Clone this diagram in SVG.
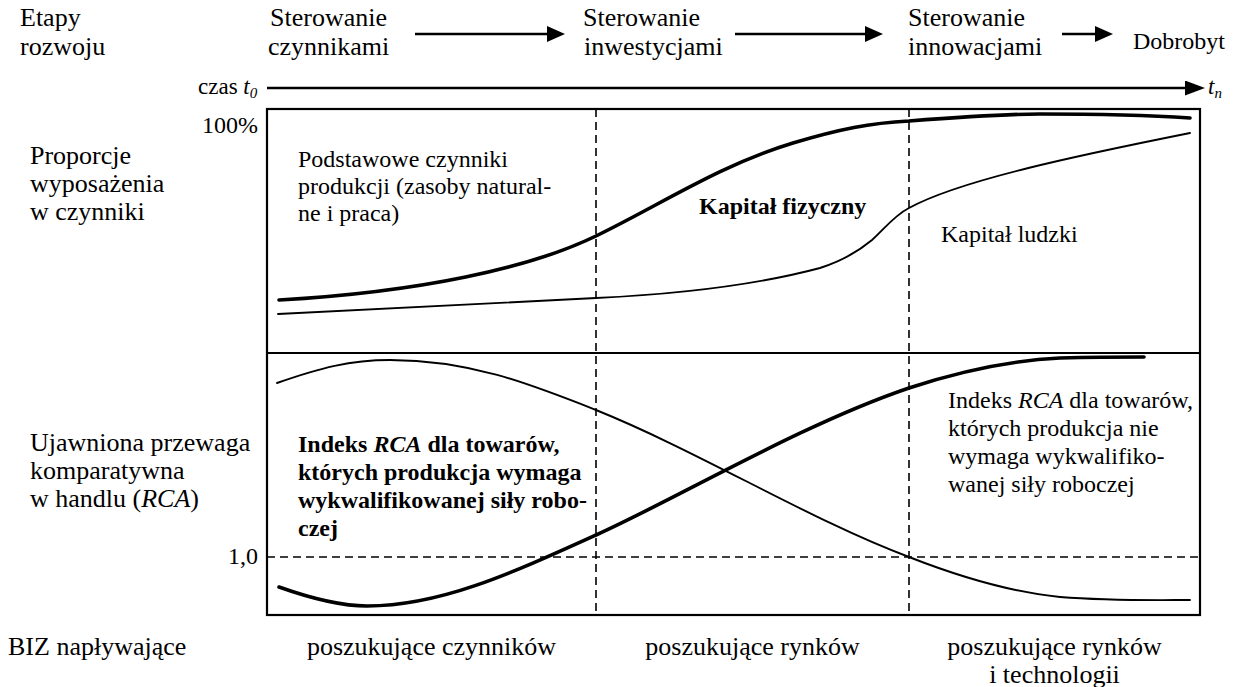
<svg xmlns="http://www.w3.org/2000/svg" width="1243" height="687" viewBox="0 0 1243 687" font-family="'Liberation Serif', 'Times New Roman', Times, serif">
  <defs>
    <marker id="head" viewBox="0 0 18 16" refX="10" refY="8" markerWidth="18" markerHeight="16" markerUnits="userSpaceOnUse" orient="auto">
      <path d="M0,0 L18,8 L0,16 z" fill="#000"/>
    </marker>
    <marker id="axisHead" viewBox="0 0 20 15" refX="12" refY="7.5" markerWidth="20" markerHeight="15" markerUnits="userSpaceOnUse" orient="auto">
      <path d="M0,0 L20,7.5 L0,15 z" fill="#000"/>
    </marker>
    <style>
      text { font-family: 'Liberation Serif', 'Times New Roman', Times, serif; fill: #000; }
      .big { font-size: 26px; }
      .mid { font-size: 24px; }
      .small { font-size: 23px; }
      .bold { font-weight: bold; }
      .it { font-style: italic; }
      .frame { fill: none; stroke: #000; stroke-width: 2.2; }
      .dash { fill: none; stroke: #000; stroke-width: 1.6; stroke-dasharray: 8 5; }
      .thick { fill: none; stroke: #000; stroke-width: 3.6; stroke-linecap: round; }
      .thin { fill: none; stroke: #000; stroke-width: 1.9; stroke-linecap: round; }
      .flow { fill: none; stroke: #000; stroke-width: 2.6; }
    </style>
  </defs>
  <rect width="1243" height="687" fill="#fff"/>

  <!-- stage headings -->
  <g id="stage-label">
    <text class="big" x="20" y="26">Etapy</text>
    <text class="big" x="20" y="55">rozwoju</text>
  </g>
  <g id="stage-factors">
    <text class="big" x="270" y="26">Sterowanie</text>
    <text class="big" x="268" y="55">czynnikami</text>
  </g>
  <g id="stage-investment">
    <text class="big" x="583" y="26">Sterowanie</text>
    <text class="big" x="584" y="55">inwestycjami</text>
  </g>
  <g id="stage-innovation">
    <text class="big" x="908" y="26">Sterowanie</text>
    <text class="big" x="908" y="55">innowacjami</text>
  </g>
  <g id="stage-welfare">
    <text class="mid" x="1133" y="49">Dobrobyt</text>
  </g>

  <!-- arrows between stages and the time axis -->
  <g id="connectors">
    <line class="flow" x1="415" y1="34" x2="557" y2="34" marker-end="url(#head)"/>
    <line class="flow" x1="735" y1="34" x2="875" y2="34" marker-end="url(#head)"/>
    <line class="flow" x1="1062" y1="34" x2="1105" y2="34" marker-end="url(#head)"/>
    <line class="flow" x1="267" y1="88" x2="1197" y2="88" stroke-width="3" marker-end="url(#axisHead)"/>
  </g>

  <g id="time-labels">
    <text class="small" x="198" y="94">czas <tspan class="it">t</tspan><tspan class="it" font-size="15" dy="4">0</tspan></text>
    <text class="small it" x="1208" y="94">t<tspan font-size="15" dy="4">n</tspan></text>
  </g>

  <!-- chart frame -->
  <g id="frame">
    <rect class="frame" x="267" y="109" width="933" height="506"/>
    <line class="frame" x1="267" y1="353" x2="1200" y2="353"/>
    <line class="dash" x1="596" y1="109" x2="596" y2="615"/>
    <line class="dash" x1="909" y1="109" x2="909" y2="615"/>
    <line class="dash" x1="267" y1="557" x2="1200" y2="557"/>
  </g>

  <!-- left axis labels -->
  <g id="axis-labels">
    <text class="mid" x="258" y="133" text-anchor="end">100%</text>
    <text class="big" x="30" y="164">Proporcje</text>
    <text class="big" x="30" y="192">wyposażenia</text>
    <text class="big" x="30" y="220">w czynniki</text>
    <text class="big" x="30" y="451">Ujawniona przewaga</text>
    <text class="big" x="30" y="479">komparatywna</text>
    <text class="big" x="30" y="507">w handlu (<tspan class="it">RCA</tspan>)</text>
    <text class="mid" x="258" y="564" text-anchor="end">1,0</text>
  </g>

  <!-- endowment proportions -->
  <g id="endowment">
    <path class="thick" d="M279,300 C420,292 530,268 596,236 C660,205 720,165 793,143 C840,129 870,123 909,121 C960,117 1000,114 1040,114 C1100,114 1160,116 1190,118"/>
    <path class="thin" d="M278,314 C400,308 520,302 596,298 C680,294 760,284 820,268 C845,260 860,250 872,240 C885,228 895,215 909,208 C960,180 1080,155 1190,133"/>
    <text class="mid" x="298" y="167">Podstawowe czynniki</text>
    <text class="mid" x="298" y="194">produkcji (zasoby natural-</text>
    <text class="mid" x="298" y="221">ne i praca)</text>
    <text class="mid bold" x="699" y="214">Kapitał fizyczny</text>
    <text class="mid" x="941" y="242">Kapitał ludzki</text>
  </g>

  <!-- revealed comparative advantage -->
  <g id="rca">
    <path class="thick" d="M279,587 C310,598 340,606 367,606 C440,606 510,574 596,535 C680,497 800,425 909,388 C970,368 1020,360 1060,358 C1100,357 1130,357 1144,357"/>
    <path class="thin" d="M277,383 C320,368 350,360 390,360 C470,360 530,384 596,410 C700,452 810,520 909,557 C960,577 1010,592 1060,597 C1110,601 1160,600 1190,600"/>
    <text class="mid bold" x="298" y="452">Indeks <tspan class="it">RCA</tspan> dla towarów,</text>
    <text class="mid bold" x="298" y="480">których produkcja wymaga</text>
    <text class="mid bold" x="298" y="508">wykwalifikowanej siły robo-</text>
    <text class="mid bold" x="298" y="536">czej</text>
    <text class="mid" x="948" y="408">Indeks <tspan class="it">RCA</tspan> dla towarów,</text>
    <text class="mid" x="948" y="436">których produkcja nie</text>
    <text class="mid" x="948" y="464">wymaga wykwalifiko-</text>
    <text class="mid" x="948" y="492">wanej siły roboczej</text>
  </g>

  <!-- inward FDI row -->
  <g id="fdi">
    <text class="big" x="8" y="655">BIZ napływające</text>
    <text class="big" x="431.5" y="655" text-anchor="middle">poszukujące czynników</text>
    <text class="big" x="752.5" y="655" text-anchor="middle">poszukujące rynków</text>
    <text class="big" x="1054.5" y="655" text-anchor="middle">poszukujące rynków</text>
    <text class="big" x="1054.5" y="683" text-anchor="middle">i technologii</text>
  </g>
</svg>
